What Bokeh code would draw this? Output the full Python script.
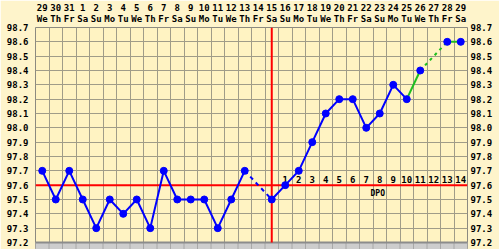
from bokeh.plotting import figure
from bokeh.models import Range1d, FixedTicker, LinearAxis, Label
from bokeh.embed import file_html
from bokeh.resources import INLINE
from bokeh.core.properties import value

# ---- data ----
dates = ["29", "30", "31", "1", "2", "3", "4", "5", "6", "7", "8", "9", "10", "11", "12", "13",
         "14", "15", "16", "17", "18", "19", "20", "21", "22", "23", "24", "25", "26", "27", "28", "29"]
weekdays = ["We", "Th", "Fr", "Sa", "Su", "Mo", "Tu", "We", "Th", "Fr", "Sa", "Su", "Mo", "Tu", "We", "Th",
            "Fr", "Sa", "Su", "Mo", "Tu", "We", "Th", "Fr", "Sa", "Su", "Mo", "Tu", "We", "Th", "Fr", "Sa"]
temps = [97.7, 97.5, 97.7, 97.5, 97.3, 97.5, 97.4, 97.5, 97.3, 97.7, 97.5, 97.5, 97.5, 97.3, 97.5, 97.7,
         None, 97.5, 97.6, 97.7, 97.9, 98.1, 98.2, 98.2, 98.0, 98.1, 98.3, 98.2, 98.4, None, 98.6, 98.6]
temp_ticks = [97.2, 97.3, 97.4, 97.5, 97.6, 97.7, 97.8, 97.9, 98.0, 98.1, 98.2, 98.3, 98.4, 98.5, 98.6, 98.7]
coverline = 97.6
ovulation_day = 17
dpo_labels = ["1", "2", "3", "4", "5", "6", "7", "8", "9", "10", "11", "12", "13", "14"]

# line segments: (start index, end index)
blue_solid = [(0, 15), (17, 27)]
blue_dashed = [(15, 17)]
green_solid = [(27, 28), (30, 31)]
green_dashed = [(28, 30)]

n = len(dates)
FONT = "DejaVu Sans Mono"
BLUE = "#0000ff"
GREEN = "#1fbf1f"
RED = "#ff0000"
GRID = "#a09c88"

y_bottom = 97.151
p = figure(width=499, height=249, output_backend="svg", toolbar_location=None,
           x_range=Range1d(-0.5, n - 0.5), y_range=Range1d(y_bottom, 98.7),
           min_border_left=35, min_border_right=32, min_border_top=27, min_border_bottom=0,
           x_axis_location=None, y_axis_location="left")
p.background_fill_color = "#fff3c2"
p.border_fill_color = "#fef4cb"
p.outline_line_color = "#8c8a80"
p.outline_line_width = 1

# grids
p.xgrid.ticker = FixedTicker(ticks=[i - 0.5 for i in range(n + 1)])
p.ygrid.ticker = FixedTicker(ticks=temp_ticks)
for g in (p.xgrid, p.ygrid):
    g.grid_line_color = GRID
    g.grid_line_width = 1

def style_axis(ax, standoff):
    ax.major_tick_in = 0
    ax.major_tick_out = 0
    ax.minor_tick_in = 0
    ax.minor_tick_out = 0
    ax.axis_line_color = None
    ax.major_label_text_font = FONT
    ax.major_label_text_font_style = "bold"
    ax.major_label_text_font_size = "9px"
    ax.major_label_text_color = "#000000"
    ax.major_label_standoff = standoff

# left axis
ly = p.yaxis[0]
ly.ticker = FixedTicker(ticks=temp_ticks)
ly.major_label_overrides = {t: f"{t:.1f}" for t in temp_ticks}
style_axis(ly, 7)
# right axis
ry = LinearAxis(ticker=FixedTicker(ticks=temp_ticks),
                major_label_overrides={t: f"{t:.1f}" for t in temp_ticks})
style_axis(ry, 3)
p.add_layout(ry, "right")

# top axes: weekdays nearest the plot, dates above
xt = list(range(n))
wax = LinearAxis(ticker=FixedTicker(ticks=xt), major_label_overrides={i: weekdays[i] for i in xt})
style_axis(wax, 4)
p.add_layout(wax, "above")
dax = LinearAxis(ticker=FixedTicker(ticks=xt), major_label_overrides={i: dates[i] for i in xt})
style_axis(dax, 0)
p.add_layout(dax, "above")

# gray strip below 97.2
p.quad(left=[-0.5], right=[n - 0.5], bottom=[y_bottom], top=[97.2], fill_color="#cdcdcd", line_color=None)
p.segment(x0=[i - 0.5 for i in range(n + 1)], y0=[y_bottom] * (n + 1),
          x1=[i - 0.5 for i in range(n + 1)], y1=[97.2] * (n + 1), line_color="#a8a8a8", line_width=1)
p.segment(x0=[-0.5], y0=[97.2], x1=[n - 0.5], y1=[97.2], line_color="#8c8c8c", line_width=2)

# cover line & ovulation line
p.segment(x0=[-0.5], y0=[coverline], x1=[n - 0.5], y1=[coverline], line_color=RED, line_width=2)
p.segment(x0=[ovulation_day], y0=[97.2], x1=[ovulation_day], y1=[98.7], line_color=RED, line_width=2)

# DPO labels
dpo_x = list(range(ovulation_day + 1, ovulation_day + 1 + len(dpo_labels)))
p.text(x=dpo_x, y=[coverline] * len(dpo_x), text=dpo_labels, text_align="center", text_baseline="bottom",
       y_offset=-2, text_font=value(FONT), text_font_style="bold", text_font_size="9px", text_color="#000000")
p.text(x=[24.85], y=[coverline], text=["DPO"], text_align="center", text_baseline="top", y_offset=4,
       text_font=value(FONT), text_font_style="bold", text_font_size="8px", text_color="#000000")

# temperature lines
def seg_line(a, b, color, dash):
    xs = [i for i in range(a, b + 1) if temps[i] is not None]
    ys = [temps[i] for i in xs]
    p.line(xs, ys, line_color=color, line_width=2, line_dash=dash)

for a, b in blue_solid:
    seg_line(a, b, BLUE, "solid")
for a, b in blue_dashed:
    seg_line(a, b, BLUE, "4 4")
for a, b in green_solid:
    seg_line(a, b, GREEN, "solid")
for a, b in green_dashed:
    seg_line(a, b, GREEN, "3 4")

px = [i for i in range(n) if temps[i] is not None]
py = [temps[i] for i in px]
p.scatter(px, py, size=7, fill_color=BLUE, line_color=BLUE)

# "Date" header
p.add_layout(Label(x=-0.5, y=98.7, x_offset=-3, y_offset=13, text="Date", text_align="right",
                   text_baseline="middle", text_font=FONT, text_font_style="bold",
                   text_font_size="9px", text_color="#000000"))

open("out.html", "w").write(file_html(p, INLINE))
